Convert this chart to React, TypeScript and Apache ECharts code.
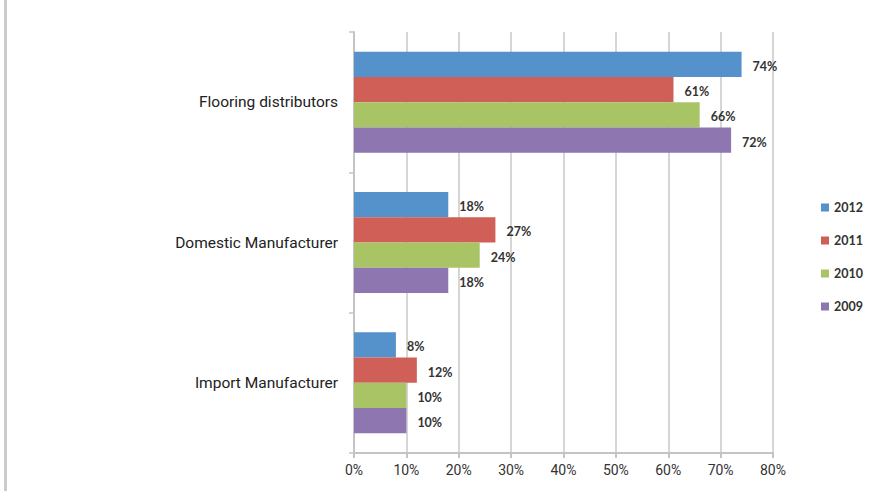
import React, { useEffect, useRef } from "react";
import * as echarts from "echarts";

const categories = ["Flooring distributors", "Domestic Manufacturer", "Import Manufacturer"];
const years = ["2012", "2011", "2010", "2009"];
const values2012 = [74, 18, 8];
const values2011 = [61, 27, 12];
const values2010 = [66, 24, 10];
const values2009 = [72, 18, 10];
const xTicks = [0, 10, 20, 30, 40, 50, 60, 70, 80];
const colors = ["#5591CA", "#CF5F57", "#A8C464", "#8E76B0"];

export default function App() {
  const ref = useRef<HTMLDivElement>(null);
  useEffect(() => {
    const chart = echarts.init(ref.current!, null, { renderer: "svg" });
    const seriesData = [values2012, values2011, values2010, values2009];
    chart.setOption({
      animation: false,
      backgroundColor: "#ffffff",
      grid: { left: 354, right: 104, top: 32, bottom: 38 },
      legend: {
        orient: "vertical",
        left: 816,
        top: 196,
        itemWidth: 8,
        itemHeight: 8,
        itemGap: 20,
        icon: "rect",
        data: years,
        textStyle: { fontFamily: "Lato", fontWeight: "bold", fontSize: 12.5, color: "#333" },
      },
      xAxis: {
        type: "value",
        min: 0,
        max: 80,
        interval: 10,
        axisLine: { show: true, lineStyle: { color: "#c4c4c4", width: 2 } },
        axisTick: { show: true, length: 5, lineStyle: { color: "#c4c4c4", width: 2 } },
        splitLine: { show: true, lineStyle: { color: "#c8c8c8", width: 1.5 } },
        axisLabel: {
          formatter: (v: number) => (xTicks.includes(v) ? v + "%" : ""),
          fontFamily: "Roboto",
          fontSize: 14,
          color: "#333",
          margin: 10,
        },
      },
      yAxis: {
        type: "category",
        inverse: true,
        data: categories,
        axisLine: { show: true, lineStyle: { color: "#c4c4c4", width: 2 } },
        axisTick: { show: true, length: 5, lineStyle: { color: "#c4c4c4", width: 1.5 } },
        axisLabel: { fontFamily: "Roboto", fontSize: 15.5, color: "#222", margin: 16 },
      },
      series: years.map((y, i) => ({
        name: y,
        type: "bar",
        data: seriesData[i],
        barGap: "0%",
        barCategoryGap: "28%",
        itemStyle: { color: colors[i] },
        label: {
          show: true,
          position: "right",
          distance: 11,
          offset: [0, 2],
          formatter: "{c}%",
          fontFamily: "Lato",
          fontWeight: "bold",
          fontSize: 12.5,
          color: "#333",
        },
      })),
      graphic: [
        { type: "rect", left: 4, top: 0, shape: { width: 3, height: 491 }, style: { fill: "#cccccc" } },
      ],
    });
    return () => chart.dispose();
  }, []);
  return <div ref={ref} style={{ position: "fixed", left: 0, top: 0, width: 877, height: 491 }} />;
}
